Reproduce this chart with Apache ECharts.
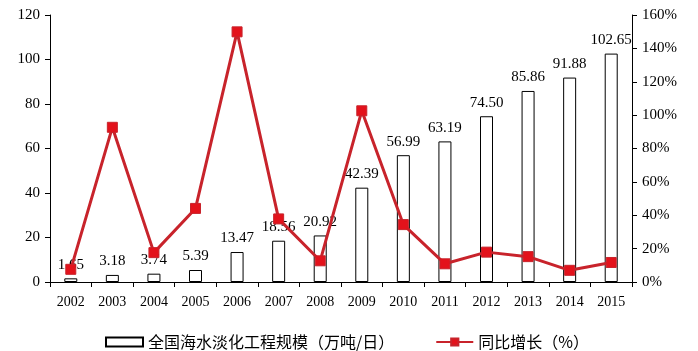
<!DOCTYPE html>
<html>
<head>
<meta charset="utf-8">
<script src="https://cdn.jsdelivr.net/npm/echarts@6/dist/echarts.min.js"></script>
<style>
  html, body { margin: 0; padding: 0; background: #fff; }
  #main { width: 698px; height: 351px; }
</style>
</head>
<body>
<div id="main"></div>
<script>
// 年份
var years = ['2002', '2003', '2004', '2005', '2006', '2007', '2008', '2009', '2010', '2011', '2012', '2013', '2014', '2015'];
// 全国海水淡化工程规模（万吨/日）
var scale = [1.65, 3.18, 3.74, 5.39, 13.47, 18.56, 20.92, 42.39, 56.99, 63.19, 74.50, 85.86, 91.88, 102.65];
// 同比增长（%）
var growth = [7.6, 92.7, 17.6, 44.1, 149.9, 37.8, 12.7, 102.6, 34.4, 10.9, 17.9, 15.2, 7.0, 11.7];

var serif = '"Liberation Serif", "DejaVu Serif", serif';
var cjk = '"Noto Sans CJK SC", sans-serif';

var myChart = echarts.init(document.getElementById('main'));
myChart.setOption({
  animation: false,
  backgroundColor: '#fff',
  grid: { left: 50, right: 66, top: 15, bottom: 69 },
  legend: {
    top: 329,
    left: 100,
    itemGap: 41,
    itemWidth: 37,
    itemHeight: 9,
    textStyle: { fontFamily: cjk, fontSize: 16, color: '#000' },
    data: [
      { name: '全国海水淡化工程规模（万吨/日）', icon: 'rect' },
      { name: '同比增长（%）' }
    ]
  },
  xAxis: {
    type: 'category',
    data: years,
    boundaryGap: true,
    axisLine: { lineStyle: { color: '#000', width: 1 } },
    axisTick: { show: true, inside: false, length: 5, lineStyle: { color: '#000' } },
    axisLabel: { fontFamily: serif, fontSize: 14, color: '#000', margin: 13, interval: 0 }
  },
  yAxis: [
    {
      type: 'value',
      min: 0, max: 120, interval: 20,
      axisLine: { show: true, lineStyle: { color: '#000' } },
      axisTick: { show: true, length: 5, lineStyle: { color: '#000' } },
      splitLine: { show: false },
      axisLabel: { fontFamily: serif, fontSize: 15, color: '#000', margin: 10 }
    },
    {
      type: 'value',
      min: 0, max: 160, interval: 20,
      axisLine: { show: true, lineStyle: { color: '#000' } },
      axisTick: { show: true, length: 5, lineStyle: { color: '#000' } },
      splitLine: { show: false },
      axisLabel: { fontFamily: serif, fontSize: 15, color: '#000', margin: 10, formatter: '{value}%' }
    }
  ],
  series: [
    {
      name: '全国海水淡化工程规模（万吨/日）',
      type: 'bar',
      yAxisIndex: 0,
      barWidth: 13,
      data: scale,
      itemStyle: { color: '#fff', borderColor: '#000', borderWidth: 1 },
      label: {
        show: true,
        position: 'top',
        distance: 6,
        fontFamily: serif,
        fontSize: 15,
        color: '#000',
        formatter: function (p) { return p.value.toFixed(2); }
      },
      z: 1
    },
    {
      name: '同比增长（%）',
      type: 'line',
      yAxisIndex: 1,
      data: growth,
      symbol: 'rect',
      symbolSize: 10,
      lineStyle: { color: '#c8232b', width: 3 },
      itemStyle: { color: '#e3121b', borderColor: '#c8232b', borderWidth: 1 },
      z: 3
    }
  ]
});
</script>
</body>
</html>
